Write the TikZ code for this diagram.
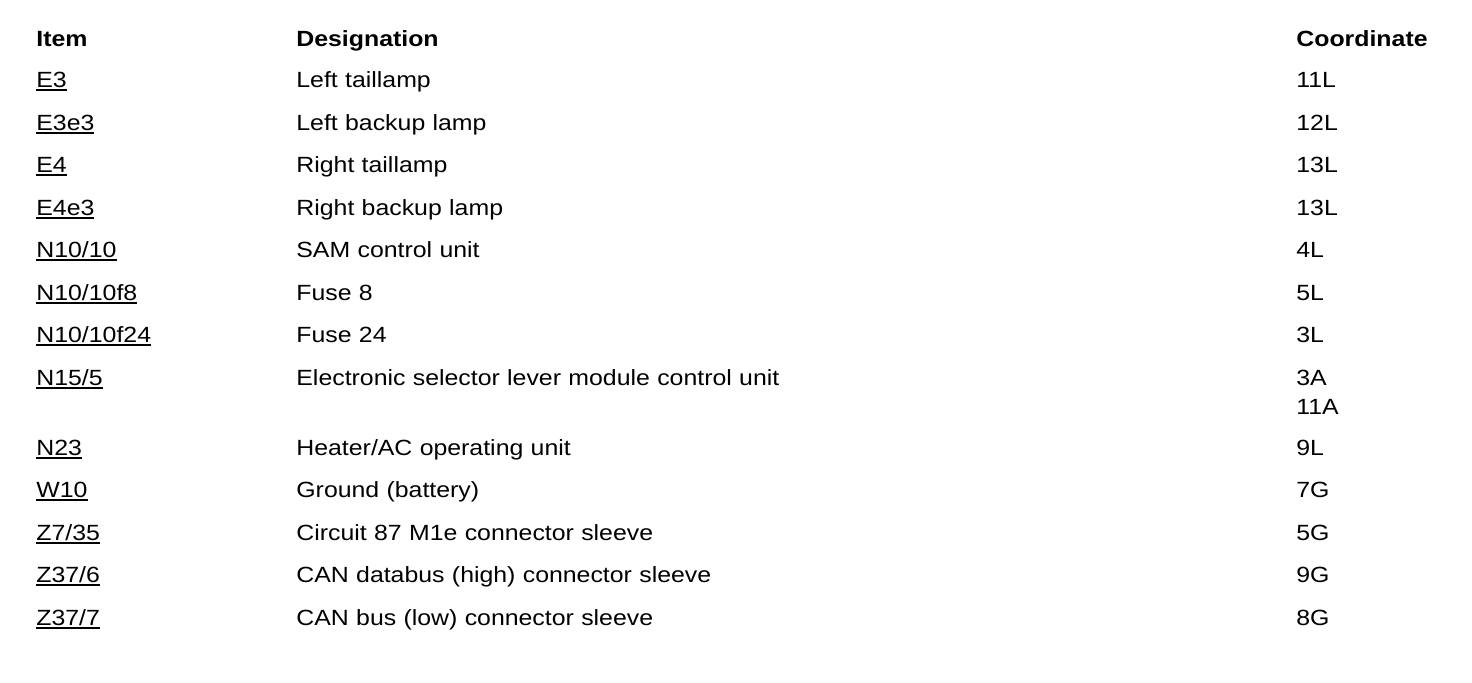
\documentclass[tikz,border=0pt]{standalone}
\usepackage{fontspec}
\setmainfont[FakeStretch=1.13]{Liberation Sans}
\usetikzlibrary{matrix}

% underlined item label
\newcommand{\itemul}[1]{\leavevmode\setbox0\hbox{#1}\rlap{\rule[-1.75pt]{\wd0}{1pt}}\box0}

\tikzset{
  cell/.style={inner sep=0pt, outer sep=0pt, anchor=base west, align=left,
    text height=8pt, text depth=2.5pt, font=\fontsize{11pt}{13pt}\selectfont},
  head/.style={font=\fontsize{11pt}{13pt}\selectfont\bfseries}
}

\begin{document}
\begin{tikzpicture}[x=0.5pt, y=-0.5pt]
\useasboundingbox (0,0) rectangle (1472,682);

\matrix (tab) [matrix of nodes, anchor=north west, inner sep=0pt, column sep=0pt, row sep=10.75pt,
  column 1/.style={nodes={cell, text width=130pt}},
  column 2/.style={nodes={cell, text width=500pt}},
  column 3/.style={nodes={cell, text width=80pt}},
  row 1/.style={nodes=head}] at (36,30) {
Item & Designation & Coordinate \\[-0.5pt]
\itemul{E3} & Left taillamp & 11L \\
\itemul{E3e3} & Left backup lamp & 12L \\
\itemul{E4} & Right taillamp & 13L \\
\itemul{E4e3} & Right backup lamp & 13L \\
\itemul{N10/10} & SAM control unit & 4L \\
\itemul{N10/10f8} & Fuse 8 & 5L \\
\itemul{N10/10f24} & Fuse 24 & 3L \\
\itemul{N15/5} & Electronic selector lever module control unit & 3A \\[-6.5pt]
 & & 11A \\[-1pt]
\itemul{N23} & Heater/AC operating unit & 9L \\
\itemul{W10} & Ground (battery) & 7G \\
\itemul{Z7/35} & Circuit 87 M1e connector sleeve & 5G \\
\itemul{Z37/6} & CAN databus (high) connector sleeve & 9G \\
\itemul{Z37/7} & CAN bus (low) connector sleeve & 8G \\
};
\end{tikzpicture}
\end{document}
